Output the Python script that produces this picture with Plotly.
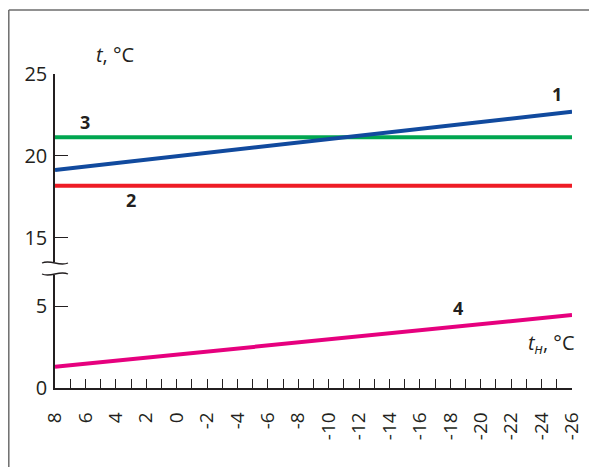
import plotly.graph_objects as go

# ---- data ----
x_ends = [8, -26]
line1 = [19.13, 22.69]   # blue
line2 = [18.17, 18.17]   # red
line3 = [21.13, 21.13]   # green
line4 = [1.30, 4.46]     # magenta
x_tick_values = list(range(8, -27, -2))
x_tick_labels = [str(v) for v in x_tick_values]
y_low_ticks = [0, 5]
y_high_ticks = [15, 20, 25]
curve_labels = ["1", "2", "3", "4"]

OFF = 8                      # page body margin
W, H = 597 - OFF, 467 - OFF
# plot area in page pixels: x 55..572, y 74..388
L, T = 55 - OFF, 74 - OFF
R = W - (572 - OFF)
B = H - (388 - OFF)
PW, PH = W - L - R, H - T - B
UNIT = 16.35


def px(x):
    return (x - OFF - L) / PW


def py(y):
    return (H - B - (y - OFF)) / PH


low_top_px = 275
high_bot_px = 262

fig = go.Figure()
fig.add_trace(go.Scatter(x=x_ends, y=line3, mode="lines", yaxis="y2",
                         line=dict(color="#00a650", width=4), hoverinfo="skip"))
fig.add_trace(go.Scatter(x=x_ends, y=line2, mode="lines", yaxis="y2",
                         line=dict(color="#ee1c25", width=4), hoverinfo="skip"))
fig.add_trace(go.Scatter(x=x_ends, y=line1, mode="lines", yaxis="y2",
                         line=dict(color="#114a9e", width=4), hoverinfo="skip"))
fig.add_trace(go.Scatter(x=x_ends, y=line4, mode="lines", yaxis="y",
                         line=dict(color="#e6007e", width=4), hoverinfo="skip"))

axcol = "#231f20"
font = "Open Sans, Noto Sans, DejaVu Sans, sans-serif"

fig.update_layout(
    width=W, height=H, autosize=False,
    margin=dict(l=L, r=R, t=T, b=B),
    paper_bgcolor="white", plot_bgcolor="white",
    showlegend=False,
    font=dict(family=font, color=axcol),
    xaxis=dict(range=[8, -26], autorange=False, anchor="y",
               tickmode="array", tickvals=x_tick_values, ticktext=x_tick_labels,
               tickangle=-90, ticks="inside", ticklen=9, tickwidth=1.3, tickcolor=axcol,
               minor=dict(dtick=1, ticks="inside", ticklen=9, tickwidth=1.3, tickcolor=axcol),
               showline=True, linecolor=axcol, linewidth=1.5,
               showgrid=False, zeroline=False,
               tickfont=dict(size=19, color=axcol), ticklabelstandoff=15),
    yaxis=dict(domain=[0, py(low_top_px)], range=[0, (388 - low_top_px) / UNIT],
               autorange=False, anchor="x",
               tickmode="array", tickvals=y_low_ticks,
               ticks="inside", ticklen=13, tickwidth=1.3, tickcolor=axcol,
               showline=True, linecolor=axcol, linewidth=1.5,
               showgrid=False, zeroline=False,
               tickfont=dict(size=20, color=axcol), ticklabelstandoff=2),
    yaxis2=dict(domain=[py(high_bot_px), 1], range=[25 - (high_bot_px - 74) / UNIT, 25],
                autorange=False, anchor="x",
                tickmode="array", tickvals=y_high_ticks,
                ticks="inside", ticklen=13, tickwidth=1.3, tickcolor=axcol,
                showline=True, linecolor=axcol, linewidth=1.5,
                showgrid=False, zeroline=False,
                tickfont=dict(size=20, color=axcol), ticklabelstandoff=2),
)


def tilde(y, flip=1):
    x0, x1 = 42, 68
    a = 4 * flip
    return (f"M {px(x0)},{py(y)} C {px(x0 + 9)},{py(y - a)} {px(x1 - 9)},{py(y + a)} {px(x1)},{py(y)}")


shapes = [
    dict(type="path", xref="paper", yref="paper", path=tilde(high_bot_px + 1, 1),
         line=dict(color=axcol, width=1.3)),
    dict(type="path", xref="paper", yref="paper", path=tilde(low_top_px - 1, -1),
         line=dict(color=axcol, width=1.3)),
    dict(type="line", xref="paper", yref="paper", x0=px(8.8), x1=px(8.8), y0=py(10), y1=py(470),
         line=dict(color="#6d6d6d", width=1.5)),
    dict(type="line", xref="paper", yref="paper", x0=px(8.8), x1=px(596), y0=py(10), y1=py(10),
         line=dict(color="#6d6d6d", width=1.5)),
]
fig.update_layout(shapes=shapes)

ann = [
    dict(x=-25.0, y=23.75, yref="y2", text=f"<b>{curve_labels[0]}</b>"),
    dict(x=3.0, y=17.3, yref="y2", text=f"<b>{curve_labels[1]}</b>"),
    dict(x=6.0, y=22.05, yref="y2", text=f"<b>{curve_labels[2]}</b>"),
    dict(x=-18.5, y=4.9, yref="y", text=f"<b>{curve_labels[3]}</b>"),
]
annotations = []
for a in ann:
    a.update(xref="x", showarrow=False, xanchor="center", yanchor="middle",
             font=dict(size=18, color=axcol, family=font))
    annotations.append(a)

annotations.append(dict(xref="paper", yref="paper", x=px(115), y=py(55),
                        text="<i>t</i>, °C", showarrow=False, xanchor="center", yanchor="middle",
                        font=dict(size=20, color=axcol, family=font)))
annotations.append(dict(xref="paper", yref="paper", x=px(577), y=py(343),
                        text="<i>t</i><sub><i>н</i></sub>, °C", showarrow=False,
                        xanchor="right", yanchor="middle",
                        font=dict(size=20, color=axcol, family=font)))
fig.update_layout(annotations=annotations)

fig.write_html("out.html")
